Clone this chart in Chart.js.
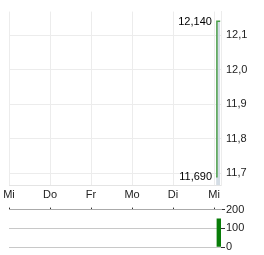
<!DOCTYPE html>
<html>
<head>
<meta charset="utf-8">
<script src="https://cdn.jsdelivr.net/npm/chart.js@4/dist/chart.umd.min.js"></script>
<style>
    body { margin: 0; background: #fff; }
    #wrap { width: 264px; height: 255px; position: relative; }
    #priceBox { position: absolute; left: 0; top: 0; width: 264px; height: 205px; }
    #volBox { position: absolute; left: 0; top: 202px; width: 264px; height: 53px; }
</style>
</head>
<body>
<div id="wrap">
    <div id="priceBox"><canvas id="priceCanvas"></canvas></div>
    <div id="volBox"><canvas id="volCanvas"></canvas></div>
</div>
<script>
// -------------------------- data ----------------------------
const dayLabels = ['Mi', 'Do', 'Fr', 'Mo', 'Di', 'Mi'];
const dayTicks = [0, 1, 2, 3, 4, 5];
const priceX = [5.05, 5.07, 5.15];
const priceY = [11.69, 12.14, 12.14];
const priceTicks = [11.7, 11.8, 11.9, 12.0, 12.1];
const volX = [5.12];
const volY = [150];
const volTicks = [0, 100, 200];

const xMin = 0, xMax = 5.17;
const font = { family: 'Liberation Sans, Arial, sans-serif', size: 11 };
const textColor = '#222';

Chart.defaults.font = font;
Chart.defaults.color = textColor;
Chart.defaults.animation = false;

// max / min labels next to the line
const minMaxLabels = {
    id: 'minMaxLabels',
    afterDatasetsDraw(chart) {
        const ctx = chart.ctx;
        const xs = chart.scales.x, ys = chart.scales.y;
        const hi = Math.max(...priceY), lo = Math.min(...priceY);
        const iHi = priceY.indexOf(hi), iLo = priceY.indexOf(lo);
        ctx.save();
        ctx.font = '11px ' + font.family;
        ctx.fillStyle = '#000';
        ctx.textAlign = 'right';
        ctx.textBaseline = 'middle';
        ctx.fillText(hi.toFixed(3).replace('.', ','), xs.getPixelForValue(priceX[iHi]) - 5, ys.getPixelForValue(hi) + 1);
        ctx.fillText(lo.toFixed(3).replace('.', ','), xs.getPixelForValue(priceX[iLo]) - 4, ys.getPixelForValue(lo));
        ctx.restore();
    }
};

// ----------------------------------- price chart ---------------------------
new Chart(document.getElementById('priceCanvas'), {
    type: 'line',
    data: {
        datasets: [{
            data: priceX.map((x, i) => ({ x: x, y: priceY[i] })),
            borderColor: '#4a9e4a',
            borderWidth: 1.5,
            backgroundColor: 'rgba(205,215,224,0.85)',
            fill: 'start',
            pointRadius: 0,
            tension: 0
        }]
    },
    options: {
        responsive: true,
        maintainAspectRatio: false,
        layout: { padding: { left: 9, top: 7, right: 0, bottom: 0 } },
        plugins: { legend: { display: false }, tooltip: { enabled: false } },
        scales: {
            x: {
                type: 'linear',
                min: xMin,
                max: xMax,
                afterBuildTicks: axis => { axis.ticks = dayTicks.map(v => ({ value: v })); },
                afterFit: axis => { axis.height = 20; },
                ticks: {
                    padding: 3,
                    maxRotation: 0,
                    autoSkip: false,
                    callback: (v) => dayLabels[dayTicks.indexOf(v)]
                },
                grid: { color: '#ececec', drawTicks: false },
                border: { color: '#e4e4e4' }
            },
            y: {
                position: 'right',
                min: 11.666,
                max: 12.168,
                afterBuildTicks: axis => { axis.ticks = priceTicks.map(v => ({ value: v })); },
                afterFit: axis => { axis.width = 43; },
                ticks: {
                    padding: 5,
                    callback: (v) => v.toFixed(1).replace('.', ',')
                },
                grid: { color: '#ececec', drawTicks: false },
                border: { color: '#ececec' }
            }
        }
    },
    plugins: [minMaxLabels]
});

// ----------------------------------- volume chart ---------------------------
new Chart(document.getElementById('volCanvas'), {
    type: 'bar',
    data: {
        datasets: [{
            data: volX.map((x, i) => ({ x: x, y: volY[i] })),
            backgroundColor: '#087d08',
            barThickness: 4
        }]
    },
    options: {
        responsive: true,
        maintainAspectRatio: false,
        layout: { padding: { left: 9, top: 4, right: 0, bottom: 8 } },
        plugins: { legend: { display: false }, tooltip: { enabled: false } },
        scales: {
            x: {
                type: 'linear',
                position: 'top',
                offset: false,
                min: xMin,
                max: xMax,
                afterBuildTicks: axis => { axis.ticks = dayTicks.map(v => ({ value: v })); },
                afterFit: axis => { axis.height = 2; },
                ticks: { display: false },
                grid: { drawOnChartArea: false, tickLength: 2, color: '#333', offset: false },
                border: { display: true, color: '#aaa' }
            },
            y: {
                position: 'right',
                min: 0,
                max: 200,
                afterBuildTicks: axis => { axis.ticks = volTicks.map(v => ({ value: v })); },
                afterFit: axis => { axis.width = 43; },
                ticks: { padding: 1 },
                grid: { color: '#c8c8c8', tickLength: 4, tickColor: '#333' },
                border: { display: false }
            }
        }
    }
});
</script>
</body>
</html>
